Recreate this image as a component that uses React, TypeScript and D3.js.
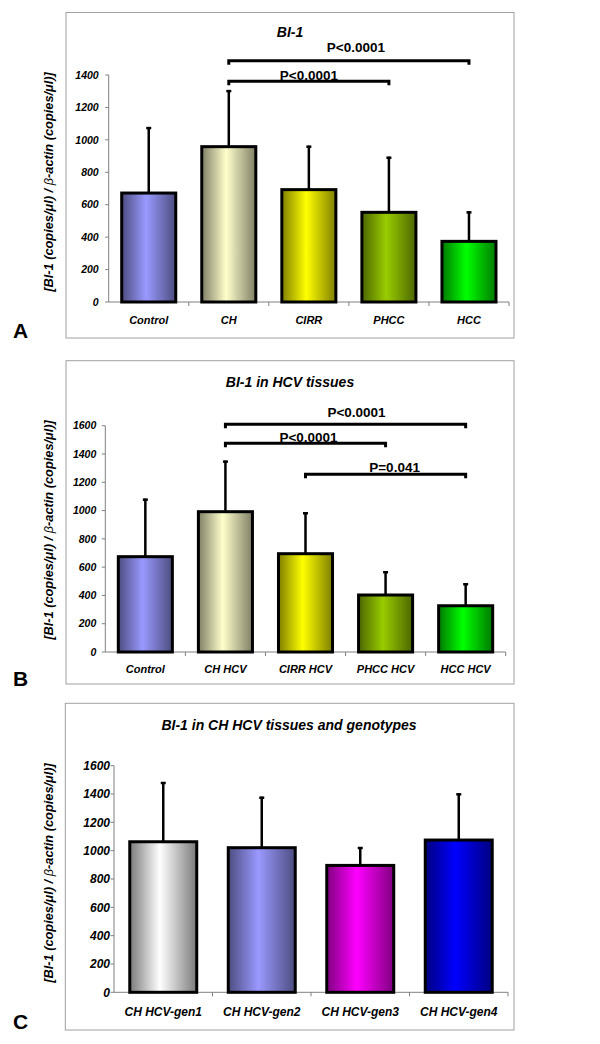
import React from "react";
import * as d3 from "d3";

// ---------- data ----------
const catsA = ["Control", "CH", "CIRR", "PHCC", "HCC"];
const meanA = [672, 958, 693, 553, 374];
const errA = [407, 349, 271, 343, 185];
const yTicksA = [0, 200, 400, 600, 800, 1000, 1200, 1400];
const bracketsA = [
  { from: 1, to: 4, label: "P<0.0001", level: 1488 },
  { from: 1, to: 3, label: "P<0.0001", level: 1361 },
];

const catsB = ["Control", "CH HCV", "CIRR HCV", "PHCC HCV", "HCC HCV"];
const meanB = [674, 992, 695, 403, 327];
const errB = [410, 361, 293, 168, 159];
const yTicksB = [0, 200, 400, 600, 800, 1000, 1200, 1400, 1600];
const bracketsB = [
  { from: 1, to: 4, label: "P<0.0001", level: 1610 },
  { from: 1, to: 3, label: "P<0.0001", level: 1476 },
  { from: 2, to: 4, label: "P=0.041", level: 1256 },
];

const catsC = ["CH HCV-gen1", "CH HCV-gen2", "CH HCV-gen3", "CH HCV-gen4"];
const meanC = [1063, 1021, 896, 1075];
const errC = [422, 360, 130, 330];
const yTicksC = [0, 200, 400, 600, 800, 1000, 1200, 1400, 1600];

const yLabel = "[BI-1 (copies/μl) / ";
const yLabel2 = "-actin (copies/μl)]";

// ---------- styles ----------
const FONT = "'Liberation Sans', Arial, Helvetica, sans-serif";
const colorsA = [
  ["#4d4d80", "#9999ff"],
  ["#7f7f66", "#ffffcc"],
  ["#7f7f00", "#ffff00"],
  ["#4c6600", "#99cc00"],
  ["#007a00", "#00ff00"],
];
const colorsC = [
  ["#7a7a7a", "#ffffff"],
  ["#4d4d80", "#9999ff"],
  ["#800080", "#ff00ff"],
  ["#000080", "#0000ff"],
];

const panels = [
  {
    id: "A",
    cats: catsA, mean: meanA, err: errA, ticks: yTicksA, brackets: bracketsA,
    colors: colorsA,
    frame: [66, 12.5, 514, 338],
    x0: 108.7, x1: 509, y0: 302, yTop: 75, yMax: 1400,
    pad: 0.325,
    title: "BI-1", titleX: 290, titleY: 37,
    labelTextDx: [7, 0], labelTextDy: [-8.5, -1.5],
    tickGap: 10, tickFont: 10.5, catFont: 11, catY: 324,
    ylabX: 53, ylabY: 182,
    letter: [13, 338],
  },
  {
    id: "B",
    cats: catsB, mean: meanB, err: errB, ticks: yTicksB, brackets: bracketsB,
    colors: colorsA,
    frame: [66, 360.7, 514, 684],
    x0: 105.3, x1: 505.7, y0: 652, yTop: 425.7, yMax: 1600,
    pad: 0.325,
    title: "BI-1 in HCV tissues", titleX: 290, titleY: 387,
    labelTextDx: [11, 3, 9], labelTextDy: [-7.5, -1.5, -2.5],
    tickGap: 9, tickFont: 10.5, catFont: 11, catY: 673,
    ylabX: 53, ylabY: 530,
    letter: [13, 686],
  },
  {
    id: "C",
    cats: catsC, mean: meanC, err: errC, ticks: yTicksC, brackets: [],
    colors: colorsC,
    frame: [65.3, 703.3, 514, 1030],
    x0: 114, x1: 508, y0: 992.3, yTop: 765.7, yMax: 1600,
    pad: 0.32,
    title: "BI-1 in CH HCV tissues and genotypes", titleX: 289, titleY: 730,
    labelTextDx: [], labelTextDy: [],
    tickGap: 4, tickFont: 12, catFont: 12, catY: 1016,
    ylabX: 53, ylabY: 873,
    letter: [13, 1029],
  },
];

function Panel({ p }: { p: any }) {
  const x = d3
    .scaleBand<string>()
    .domain(p.cats)
    .range([p.x0, p.x1])
    .paddingInner(p.pad)
    .paddingOuter(p.pad / 2);
  const y = d3.scaleLinear().domain([0, p.yMax]).range([p.y0, p.yTop]);
  const step = x.step();
  const bw = x.bandwidth();
  const cx = (i: number) => (x(p.cats[i]) as number) + bw / 2;
  const [fx0, fy0, fx1, fy1] = p.frame;

  return (
    <g>
      <defs>
        {p.colors.map((c: string[], i: number) => (
          <linearGradient key={i} id={`g${p.id}${i}`} x1="0" x2="1" y1="0" y2="0">
            <stop offset="0%" stopColor={c[0]} />
            <stop offset="45%" stopColor={c[1]} />
            <stop offset="100%" stopColor={c[0]} />
          </linearGradient>
        ))}
      </defs>
      <rect x={fx0} y={fy0} width={fx1 - fx0} height={fy1 - fy0} fill="white" stroke="#a0a0a0" strokeWidth={1} />
      <text x={p.titleX} y={p.titleY} textAnchor="middle" fontFamily={FONT} fontWeight="bold" fontStyle="italic" fontSize={14}>
        {p.title}
      </text>
      {/* y axis */}
      <line x1={p.x0} x2={p.x0} y1={y(0)} y2={y(p.yMax)} stroke="#808080" strokeWidth={1} />
      {p.ticks.map((t: number) => (
        <g key={t}>
          <line x1={p.x0 - 3.5} x2={p.x0} y1={y(t)} y2={y(t)} stroke="#808080" strokeWidth={1} />
          <text
            x={p.x0 - p.tickGap}
            y={y(t)}
            dy="0.36em"
            textAnchor="end"
            fontFamily={FONT}
            fontWeight="bold"
            fontStyle="italic"
            fontSize={p.tickFont}
          >
            {t}
          </text>
        </g>
      ))}
      {/* x axis */}
      <line x1={p.x0} x2={p.x1} y1={y(0)} y2={y(0)} stroke="#808080" strokeWidth={1} />
      {p.cats.map((c: string, i: number) => (
        <line key={c} x1={p.x0 + step * (i + 1)} x2={p.x0 + step * (i + 1)} y1={y(0)} y2={y(0) + 4} stroke="#808080" strokeWidth={1} />
      ))}
      {p.cats.map((c: string, i: number) => (
        <text key={c} x={cx(i)} y={p.catY} textAnchor="middle" fontFamily={FONT} fontWeight="bold" fontStyle="italic" fontSize={p.catFont}>
          {c}
        </text>
      ))}
      {/* error bars */}
      {p.cats.map((c: string, i: number) => (
        <g key={c}>
          <line x1={cx(i)} x2={cx(i)} y1={y(p.mean[i])} y2={y(p.mean[i] + p.err[i])} stroke="black" strokeWidth={2.5} />
          <line x1={cx(i) - 2.5} x2={cx(i) + 2.5} y1={y(p.mean[i] + p.err[i]) + 1} y2={y(p.mean[i] + p.err[i]) + 1} stroke="black" strokeWidth={2.5} />
        </g>
      ))}
      {/* bars */}
      {p.cats.map((c: string, i: number) => (
        <rect
          key={c}
          x={x(c)}
          y={y(p.mean[i])}
          width={bw}
          height={y(0) - y(p.mean[i])}
          fill={`url(#g${p.id}${i})`}
          stroke="black"
          strokeWidth={3}
        />
      ))}
      {/* brackets */}
      {p.brackets.map((b: any, k: number) => {
        const xa = cx(b.from);
        const xb = cx(b.to);
        const yy = y(b.level);
        return (
          <g key={k}>
            <path
              d={`M${xa},${yy + 4}V${yy}H${xb}V${yy + 4}`}
              fill="none"
              stroke="black"
              strokeWidth={3}
            />
            <text
              x={(xa + xb) / 2 + p.labelTextDx[k]}
              y={yy + p.labelTextDy[k]}
              textAnchor="middle"
              fontFamily={FONT}
              fontWeight="bold"
              fontSize={13.5}
            >
              {b.label}
            </text>
          </g>
        );
      })}
      {/* y label */}
      <text
        transform={`translate(${p.ylabX},${p.ylabY}) rotate(-90)`}
        textAnchor="middle"
        fontFamily={FONT}
        fontWeight="bold"
        fontStyle="italic"
        fontSize={12.8}
      >
        {yLabel}
        <tspan fontWeight="normal">β</tspan>
        {yLabel2}
      </text>
      <text x={p.letter[0]} y={p.letter[1]} fontFamily={FONT} fontWeight="bold" fontSize={21}>
        {p.id}
      </text>
    </g>
  );
}

export default function App() {
  return (
    <div style={{ position: "absolute", left: 0, top: 0 }}>
      <svg width={600} height={1044} style={{ display: "block", background: "white" }}>
        {panels.map((p) => (
          <Panel key={p.id} p={p} />
        ))}
      </svg>
    </div>
  );
}
